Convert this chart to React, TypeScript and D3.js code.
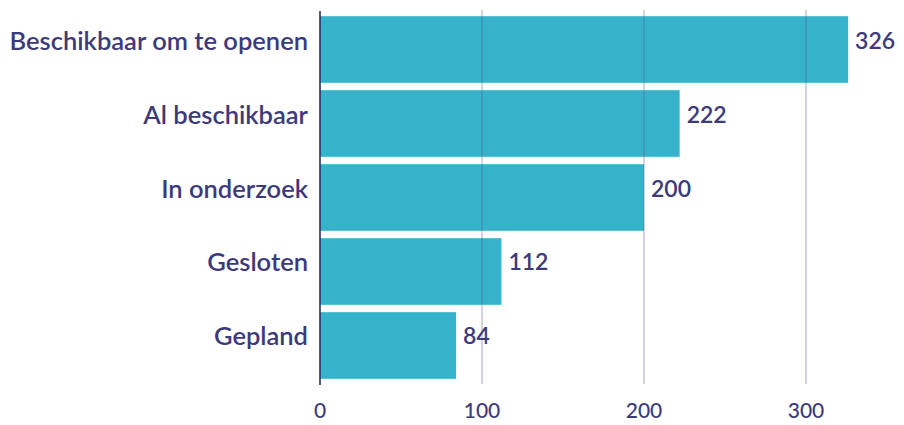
import React from "react";
import * as d3 from "d3";

const categories = ["Beschikbaar om te openen", "Al beschikbaar", "In onderzoek", "Gesloten", "Gepland"];
const values = [326, 222, 200, 112, 84];
const ticks = [0, 100, 200, 300];

export default function App() {
  const W = 904, H = 425;
  const x = d3.scaleLinear().domain([0, 300]).range([320, 806]);
  const y = d3.scaleBand<string>().domain(categories).range([14, 381]).paddingInner(0.1).paddingOuter(0.03);
  const textColor = "#3c3a7b";
  const font = "Lato, 'Open Sans', sans-serif";
  return (
    <svg width={W} height={H} style={{ position: "absolute", left: 0, top: 0, background: "#fff" }}>
      {categories.map((c, i) => (
        <rect key={c} x={x(0)} y={y(c)!} width={x(values[i]) - x(0)} height={y.bandwidth()} fill="#34b3cb" />
      ))}
      {ticks.slice(1).map(t => (
        <line key={t} x1={x(t)} x2={x(t)} y1={10} y2={384} stroke="#5f5d98" strokeOpacity={0.55} strokeWidth={1} />
      ))}
      <line x1={x(0)} x2={x(0)} y1={11} y2={385} stroke="#2e2d6a" strokeWidth={1.6} />
      {categories.map((c, i) => (
        <g key={"l" + c}>
          <text x={308} y={y(c)! + y.bandwidth() / 2 - 0} textAnchor="end" fill={textColor}
            style={{ fontFamily: font, fontSize: 25.5, fontWeight: 600 }}>{c}</text>
          <text x={x(values[i]) + 7} y={y(c)! + y.bandwidth() / 2 - 1} textAnchor="start" fill={textColor}
            style={{ fontFamily: font, fontSize: 23, fontWeight: 600 }}>{values[i]}</text>
        </g>
      ))}
      {ticks.map(t => (
        <text key={"t" + t} x={x(t)} y={418} textAnchor="middle" fill={textColor}
          style={{ fontFamily: font, fontSize: 21, fontWeight: 500 }}>{t}</text>
      ))}
    </svg>
  );
}
